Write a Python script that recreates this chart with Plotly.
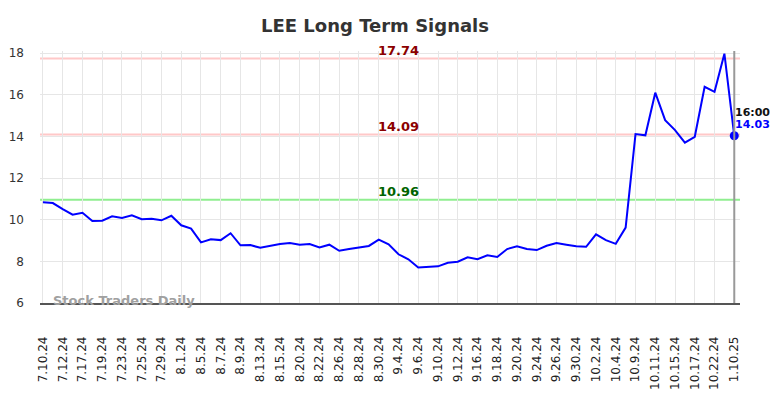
import plotly.graph_objects as go

dates = [
    "7.10.24", "7.11.24", "7.12.24", "7.16.24", "7.17.24", "7.18.24", "7.19.24", "7.22.24",
    "7.23.24", "7.24.24", "7.25.24", "7.26.24", "7.29.24", "7.31.24", "8.1.24", "8.2.24",
    "8.5.24", "8.6.24", "8.7.24", "8.8.24", "8.9.24", "8.12.24", "8.13.24", "8.14.24",
    "8.15.24", "8.16.24", "8.20.24", "8.21.24", "8.22.24", "8.23.24", "8.26.24", "8.27.24",
    "8.28.24", "8.29.24", "8.30.24", "9.3.24", "9.4.24", "9.5.24", "9.6.24", "9.9.24",
    "9.10.24", "9.11.24", "9.12.24", "9.13.24", "9.16.24", "9.17.24", "9.18.24", "9.19.24",
    "9.20.24", "9.23.24", "9.24.24", "9.25.24", "9.26.24", "9.27.24", "9.30.24", "10.1.24",
    "10.2.24", "10.3.24", "10.4.24", "10.8.24", "10.9.24", "10.10.24", "10.11.24", "10.14.24",
    "10.15.24", "10.16.24", "10.17.24", "10.21.24", "10.22.24", "10.23.24", "1.10.25",
]

prices = [
    10.84, 10.80, 10.51, 10.24, 10.33, 9.94, 9.95, 10.16,
    10.08, 10.21, 10.02, 10.04, 9.97, 10.19, 9.73, 9.57,
    8.91, 9.06, 9.02, 9.35, 8.77, 8.78, 8.65, 8.74,
    8.83, 8.88, 8.80, 8.83, 8.67, 8.80, 8.51, 8.59,
    8.67, 8.74, 9.04, 8.82, 8.34, 8.10, 7.70, 7.74,
    7.76, 7.93, 7.98, 8.19, 8.10, 8.29, 8.21, 8.59,
    8.72, 8.59, 8.54, 8.75, 8.88, 8.80, 8.72, 8.70,
    9.30, 9.02, 8.84, 9.62, 14.11, 14.05, 16.10, 14.78,
    14.30, 13.70, 13.98, 16.38, 16.14, 17.97, 14.03,
]

tick_labels = dates[::2]

levels = [17.74, 14.09, 10.96]
level_colors = ["#ffc8c8", "#ffc8c8", "#90ee90"]
level_text_colors = ["#8b0000", "#8b0000", "#006400"]

last_time = "16:00"
title = "LEE Long Term Signals"
watermark = "Stock Traders Daily"

FONT = "DejaVu Sans"
W, H = 776, 390  # page body has an 8px margin

fig = go.Figure()

for lv, lc in zip(levels, level_colors):
    fig.add_hline(y=lv, line=dict(color=lc, width=2), layer="below")

fig.add_vline(x=len(dates) - 1, line=dict(color="#999999", width=2))

fig.add_trace(go.Scatter(
    x=dates, y=prices, mode="lines",
    line=dict(color="#0000ff", width=2),
    hoverinfo="skip", cliponaxis=False,
))
fig.add_trace(go.Scatter(
    x=[dates[-1]], y=[prices[-1]], mode="markers",
    marker=dict(color="#0000ff", size=9),
    hoverinfo="skip", cliponaxis=False,
))

for lv, tc in zip(levels, level_text_colors):
    fig.add_annotation(
        x=36, y=lv, text=f"<b>{lv:.2f}</b>", showarrow=False,
        yanchor="bottom", yshift=-1, font=dict(family=FONT, size=13, color=tc),
    )

fig.add_annotation(
    x=len(dates) - 1, y=prices[-1], xanchor="left", yanchor="bottom",
    text=f"<b>{last_time}</b>", showarrow=False, xshift=-1, yshift=15,
    font=dict(family=FONT, size=11, color="#111111"),
)
fig.add_annotation(
    x=len(dates) - 1, y=prices[-1], xanchor="left", yanchor="bottom",
    text=f"<b>{prices[-1]:.2f}</b>", showarrow=False, xshift=-1, yshift=3,
    font=dict(family=FONT, size=11, color="#0000ff"),
)

fig.add_annotation(
    xref="paper", yref="paper", x=0.015, y=0.01, xanchor="left", yanchor="middle",
    text=f"<b>{watermark}</b>", showarrow=False,
    font=dict(family=FONT, size=13, color="#a0a0a0"),
)

fig.update_layout(
    width=W, height=H,
    margin=dict(l=32, r=44, t=43, b=95, autoexpand=False),
    paper_bgcolor="white", plot_bgcolor="white",
    showlegend=False,
    title=dict(text=f"<b>{title}</b>", x=367 / W, xanchor="center",
               y=1 - 18 / H, yref="container", yanchor="middle",
               font=dict(family=FONT, size=18, color="#333333")),
    font=dict(family=FONT, color="#333333"),
)

fig.update_xaxes(
    type="category", categoryorder="array", categoryarray=dates,
    range=[-0.3, len(dates) - 1 + 0.58], automargin=False,
    tickmode="array", tickvals=tick_labels, ticktext=tick_labels,
    tickangle=-90, tickfont=dict(family=FONT, size=12, color="#222222"),
    showgrid=True, gridcolor="#e6e6e6", gridwidth=1,
    showline=True, linecolor="#555555", linewidth=1.5,
    ticks="", ticklabelstandoff=27, zeroline=False,
)
fig.update_yaxes(
    range=[6, 18.1], tickvals=[6, 8, 10, 12, 14, 16, 18], automargin=False,
    tickfont=dict(family=FONT, size=12, color="#333333"),
    showgrid=True, gridcolor="#e6e6e6", gridwidth=1,
    showline=False, ticks="", ticklabelstandoff=15, zeroline=False,
)

fig.write_html("out.html")
